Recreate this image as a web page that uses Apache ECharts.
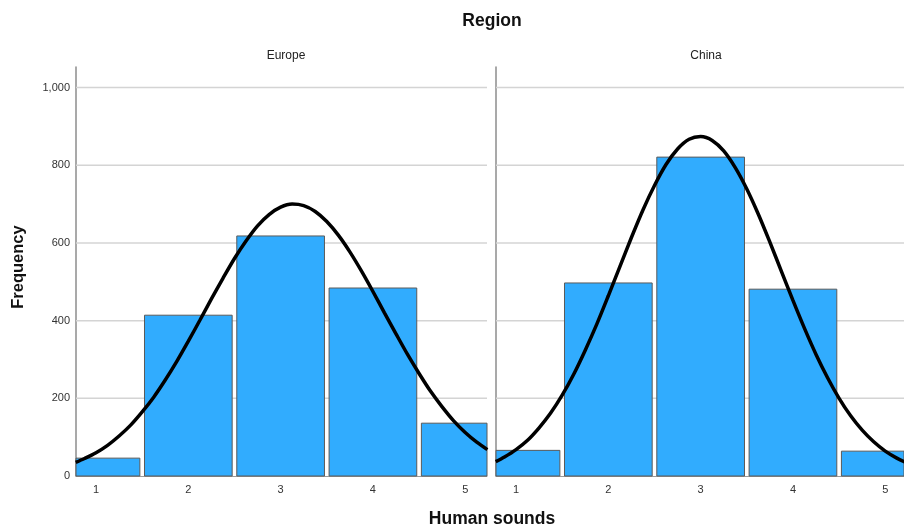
<!DOCTYPE html>
<html>
<head>
<meta charset="utf-8">
<script src="https://cdn.jsdelivr.net/npm/echarts@6/dist/echarts.min.js"></script>
<style>html,body{margin:0;padding:0;background:#fff}#chart{width:904px;height:528px}</style>
</head>
<body>
<div id="chart"></div>
<script>
// ---- data ----
const xTicks = [1, 2, 3, 4, 5];
const yTicks = [0, 200, 400, 600, 800, 1000];
const gridValues = [200, 400, 600, 800, 1000];
const panels = ['Europe', 'China'];
const europeFreq = [46, 414, 618, 484, 136];
const chinaFreq = [66, 497, 821, 481, 64];
const curveX = [0.78, 0.875, 1, 1.125, 1.25, 1.375, 1.5, 1.625, 1.75, 1.875, 2, 2.125, 2.25, 2.375, 2.5, 2.625, 2.75, 2.875,
  3, 3.125, 3.25, 3.375, 3.5, 3.625, 3.75, 3.875, 4, 4.125, 4.25, 4.375, 4.5, 4.625, 4.75, 4.875, 5, 5.125, 5.24];
const europeCurve = [35, 45, 60, 79, 103, 131, 165, 203, 247, 295, 347, 401, 456, 509, 560, 605, 644, 673,
  692, 700, 696, 681, 655, 620, 577, 528, 475, 420, 366, 313, 264, 218, 178, 142, 112, 87, 68];
const chinaCurve = [37, 49, 68, 92, 124, 162, 208, 262, 324, 391, 464, 539, 614, 685, 748, 802, 842, 867,
  874, 864, 837, 794, 739, 674, 602, 527, 452, 380, 313, 253, 200, 155, 118, 88, 64, 46, 33];

const FONT = '"Liberation Sans", Arial, sans-serif';
const freqs = [europeFreq, chinaFreq];
const curves = [europeCurve, chinaCurve];
const gridsDef = [{ left: 76, width: 411 }, { left: 496, width: 408 }];
const xMin = 0.783;
const xMaxs = [5.236, 5.203];
const HALF_BAR = 0.475;

const chart = echarts.init(document.getElementById('chart'), null, { renderer: 'canvas' });

const grid = gridsDef.map(g => ({ left: g.left, width: g.width, top: 67, height: 409, containLabel: false }));
const xAxis = gridsDef.map((g, i) => ({
  type: 'value', gridIndex: i, min: xMin, max: xMaxs[i],
  axisLine: { show: true, onZero: false, lineStyle: { color: '#9a9a9a', width: 1 } },
  axisTick: { show: false },
  splitLine: { show: false },
  axisLabel: { customValues: xTicks, color: '#333', fontSize: 11, fontFamily: FONT, margin: 8 }
}));
const yAxis = gridsDef.map((g, i) => ({
  type: 'value', gridIndex: i, min: 0, max: 1053,
  axisLine: { show: true, lineStyle: { color: '#8c8c8c', width: 1.5 } },
  axisTick: { show: false },
  splitLine: { show: false },
  axisLabel: i === 0 ? {
    customValues: yTicks, color: '#333', fontSize: 11, fontFamily: FONT, margin: 6,
    formatter: v => v.toLocaleString('en-US')
  } : { show: false }
}));

const series = [];
gridsDef.forEach((g, i) => {
  // horizontal grid lines (behind bars)
  series.push({
    type: 'custom', xAxisIndex: i, yAxisIndex: i, z: 1, silent: true,
    data: gridValues.map(v => [xMin, v]),
    renderItem: (params, api) => {
      const cs = params.coordSys;
      const y = api.coord([api.value(0), api.value(1)])[1];
      return { type: 'line', shape: { x1: cs.x, y1: y, x2: cs.x + cs.width, y2: y },
        style: { stroke: '#d4d4d4', lineWidth: 1.5 } };
    }
  });
  // histogram bars
  series.push({
    type: 'custom', xAxisIndex: i, yAxisIndex: i, z: 2, silent: true,
    data: xTicks.map((x, k) => [x, freqs[i][k]]),
    renderItem: (params, api) => {
      const x = api.value(0), y = api.value(1);
      const p1 = api.coord([x - HALF_BAR, y]);
      const p2 = api.coord([x + HALF_BAR, 0]);
      const rect = echarts.graphic.clipRectByRect(
        { x: p1[0], y: p1[1], width: p2[0] - p1[0], height: p2[1] - p1[1] },
        params.coordSys);
      if (!rect) return null;
      return { type: 'rect', shape: rect,
        style: { fill: '#31acfe', stroke: '#5a5a5a', lineWidth: 1 } };
    }
  });
  // normal curve
  series.push({
    type: 'line', xAxisIndex: i, yAxisIndex: i, z: 3, smooth: 0.3, showSymbol: false, clip: true, silent: true,
    lineStyle: { color: '#000', width: 3.5 },
    data: curveX.map((x, k) => [x, curves[i][k]])
  });
});

const bold = (text, x, y, size, rot) => ({
  type: 'text', x, y, rotation: rot || 0,
  style: { text, fontSize: size, fontWeight: 'bold', fill: '#111', fontFamily: FONT, align: 'center', verticalAlign: 'middle' }
});

chart.setOption({
  animation: false,
  backgroundColor: '#fff',
  textStyle: { fontFamily: FONT },
  title: [
    { text: panels[0], left: 281, top: 45, textAlign: 'center', textStyle: { fontSize: 12, fontWeight: 'normal', color: '#222', fontFamily: FONT } },
    { text: panels[1], left: 701, top: 45, textAlign: 'center', textStyle: { fontSize: 12, fontWeight: 'normal', color: '#222', fontFamily: FONT } }
  ],
  graphic: [
    bold('Region', 492, 21, 17.5),
    bold('Human sounds', 492, 519, 17.5),
    bold('Frequency', 18, 267, 16.5, Math.PI / 2)
  ],
  grid, xAxis, yAxis, series
});
</script>
</body>
</html>
